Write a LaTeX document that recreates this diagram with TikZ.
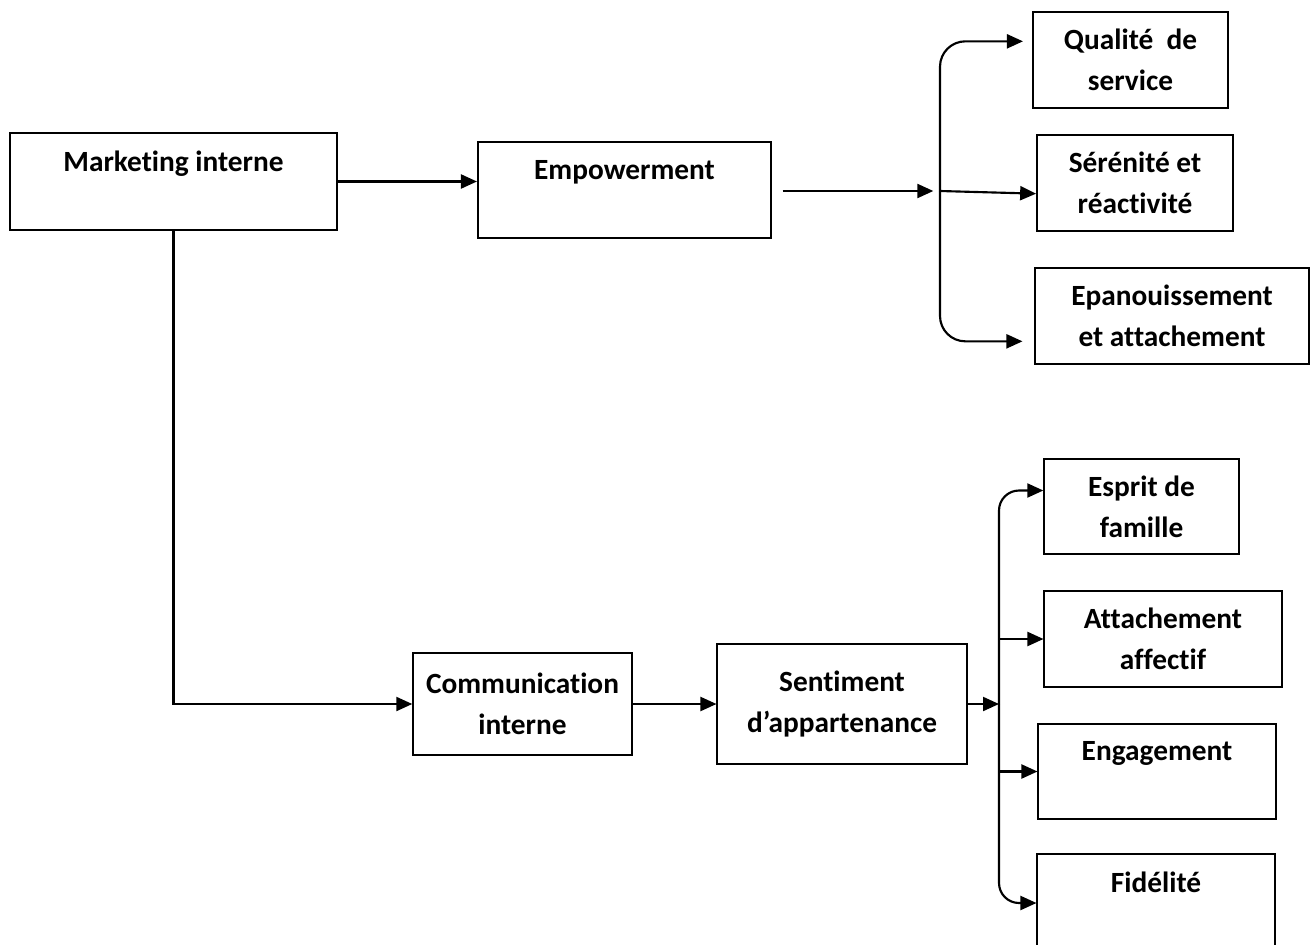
\documentclass[tikz,border=0pt]{standalone}
\usepackage{fontspec}
\setmainfont{Carlito}[Ligatures=NoCommon]
\usetikzlibrary{arrows.meta, positioning}
\tikzset{x=0.75pt, y=-0.75pt, % one unit is one pixel of the page, y going down
	>={Triangle[length=12pt,width=10.5pt]}, % filled heads
	box/.style={draw, line width=1.3pt, rectangle, align=center, inner sep=2pt,
		font=\fontsize{22}{30.75}\selectfont\bfseries}, % every framed block
	arr/.style={->, line width=1.6pt}, % plain connectors
}

\begin{document}
\begin{tikzpicture}
	\useasboundingbox (0,0) rectangle (1316,945);
	% the source and the first branch
	\node[box, minimum width=245pt, minimum height=73pt] (Marketing) at (173.5,181.5) {Marketing interne\\~};
	\node[box, minimum width=220pt, minimum height=72pt] (Empowerment) at (624.5,190) {Empowerment\\~};
	%% effects of empowerment
	\node[box, minimum width=146pt, minimum height=72pt] (Qualite) at (1130.5,60) {Qualité~ de\\service};
	\node[box, minimum width=147pt, minimum height=72pt] (Serenite) at (1135,183) {Sérénité et\\réactivité};
	\node[box, minimum width=205pt, minimum height=72pt] (Epanouissement) at (1172,316) {Epanouissement\\et attachement};
	% the second branch
	\node[box, minimum width=164pt, minimum height=76pt] (Communication) at (522.5,704) {Communication\\interne};
	\node[box, minimum width=187pt, minimum height=90pt] (Sentiment) at (842,704) {Sentiment\\d’appartenance};
	%% effects of belonging
	\node[box, minimum width=146pt, minimum height=71pt] (Esprit) at (1141.5,506.5) {Esprit de\\famille};
	\node[box, minimum width=178pt, minimum height=72pt] (Attachement) at (1163,639) {Attachement\\affectif};
	\node[box, minimum width=178pt, minimum height=71pt] (Engagement) at (1157,771.5) {Engagement\\~};
	\node[box, minimum width=178pt, minimum height=74pt] (Fidelite) at (1156,903) {Fidélité\\~};

	% forks
	\coordinate (ForkA) at (940,191);
	\coordinate (ForkB) at (999,704);

	\draw[arr] (Marketing.east) -- (Marketing.east -| Empowerment.west);
	\draw[arr, shorten <=8pt, shorten >=5pt] (Empowerment.east |- ForkA) -- (ForkA);
	\draw[arr, rounded corners=19pt, shorten >=7pt] (ForkA) |- ([yshift=14pt]Qualite.west);
	\draw[arr] (ForkA) -- ([yshift=-2pt]ForkA -| Serenite.west);
	\draw[arr, rounded corners=19pt, shorten >=9pt] (ForkA) |- ([yshift=-19pt]Epanouissement.west);

	\draw[arr] (Marketing.south) |- (Communication.west);
	\draw[arr] (Communication.east) -- (Communication.east -| Sentiment.west);
	\draw[arr] (Sentiment.east |- ForkB) -- (ForkB);
	\draw[arr, rounded corners=15pt] (ForkB) |- ([yshift=12pt]Esprit.west);
	\draw[arr] (ForkB |- Attachement.west) -- (Attachement.west);
	\draw[arr] (ForkB |- Engagement.west) -- (Engagement.west);
	\draw[arr, rounded corners=15pt] (ForkB) |- (Fidelite.west);
\end{tikzpicture}
\end{document}
